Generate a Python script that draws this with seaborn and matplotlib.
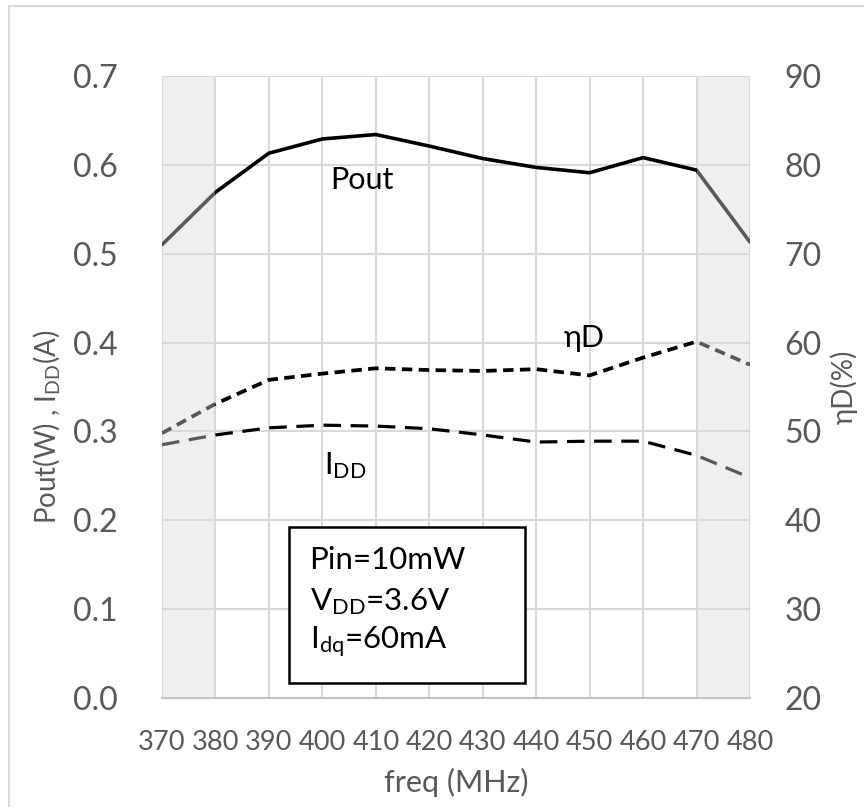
import numpy as np
import pandas as pd
import matplotlib
matplotlib.use('Agg')
import matplotlib.pyplot as plt
import seaborn as sns
from matplotlib.patches import Rectangle

# values
freq = [370, 380, 390, 400, 410, 420, 430, 440, 450, 460, 470, 480]
pout = [0.510, 0.569, 0.613, 0.629, 0.634, 0.621, 0.607, 0.597, 0.591, 0.608, 0.594, 0.513]
eta_d = [49.8, 53.1, 55.8, 56.5, 57.1, 56.9, 56.8, 57.0, 56.3, 58.3, 60.1, 57.5]
idd = [0.285, 0.296, 0.304, 0.307, 0.306, 0.303, 0.296, 0.288, 0.289, 0.289, 0.273, 0.248]
shaded_bands = [(370, 380), (470, 480)]
left_ticks = [0.0, 0.1, 0.2, 0.3, 0.4, 0.5, 0.6, 0.7]
right_ticks = [20, 30, 40, 50, 60, 70, 80, 90]
conditions = ['Pin=10mW', 'V$_{DD}$=3.6V', 'I$_{dq}$=60mA']

df = pd.DataFrame({'freq': freq, 'Pout': pout, 'etaD': eta_d, 'IDD': idd})

sns.set_theme(style='white')
plt.rcParams['font.family'] = ['Lato', 'DejaVu Sans']
plt.rcParams['mathtext.default'] = 'regular'

grey = '#595959'
fig = plt.figure(figsize=(8.64, 8.07), dpi=100)
ax = fig.add_axes([0.1875, 0.135, 0.6805, 0.771])
ax2 = ax.twinx()

# lines
sns.lineplot(data=df, x='freq', y='Pout', ax=ax, color='black', lw=2.6, zorder=3)
sns.lineplot(data=df, x='freq', y='IDD', ax=ax, color='black', lw=2.3, zorder=3)
ax.lines[-1].set_dashes([5.5, 3.0])
sns.lineplot(data=df, x='freq', y='etaD', ax=ax2, color='black', lw=2.7, zorder=3)
ax2.lines[-1].set_dashes([2.8, 1.7])

# shaded edge bands - semi transparent so the lines underneath turn grey
for lo, hi in shaded_bands:
    ax2.axvspan(lo, hi, color='#dadada', alpha=0.41, lw=0, zorder=4)

ax.set_xlim(370, 480)
ax.set_ylim(0, 0.7)
ax2.set_ylim(20, 90)
ax.set_xticks(freq)
ax.set_yticks(left_ticks)
ax.set_yticklabels([f'{v:.1f}' for v in left_ticks])
ax2.set_yticks(right_ticks)

ax.grid(True, color='#d9d9d9', lw=1.5, zorder=0)
ax.set_axisbelow(True)
for a in (ax, ax2):
    for s in a.spines.values():
        s.set_visible(False)
ax.spines['bottom'].set_visible(True)
ax.spines['bottom'].set_color('#bfbfbf')
ax.spines['bottom'].set_linewidth(1.5)

ax.tick_params(axis='x', length=0, labelsize=19.5, labelcolor=grey, pad=23)
ax.tick_params(axis='y', length=0, labelsize=23, labelcolor=grey, pad=32)
ax2.tick_params(axis='y', length=0, labelsize=23, labelcolor=grey, pad=25)

ax.set_xlabel('freq (MHz)', fontsize=22, color=grey, labelpad=9)
ax.set_ylabel('Pout(W) , I$_{DD}$(A)', fontsize=20, color=grey)
ax.yaxis.set_label_coords(-0.17, 0.436)
ax2.set_ylabel('ηD(%)', fontsize=20, color=grey, labelpad=6)

# series labels
ax.text(407.4, 0.583, 'Pout', fontsize=22, ha='center', va='center', color='black', zorder=6)
ax.text(449.0, 0.405, 'ηD', fontsize=22, ha='center', va='center', color='black', zorder=6)
ax.text(404.2, 0.262, 'I$_{DD}$', fontsize=22, ha='center', va='center', color='black', zorder=6)

# conditions box
ax.add_patch(Rectangle((393.7, 0.017), 44.2, 0.175, facecolor='white',
                       edgecolor='black', lw=1.8, zorder=7))
for i, line in enumerate(conditions):
    ax.text(397.6, 0.155 - i * 0.046, line, fontsize=22.5, ha='left', va='center',
            color='black', zorder=8)

# outer chart border
fig.add_artist(Rectangle((9 / 864, -0.05), 1.2, 0.05 + 1 - 6 / 807,
                         transform=fig.transFigure, fill=False,
                         edgecolor='#d9d9d9', lw=1.5))

fig.savefig('out.png', dpi=100)
